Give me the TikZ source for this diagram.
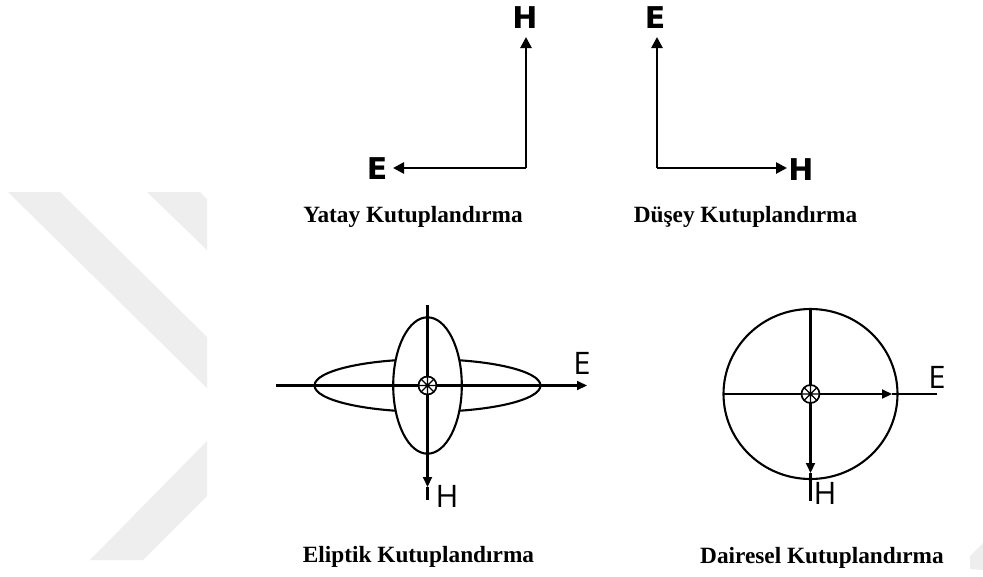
\documentclass[tikz,border=0pt]{standalone}
\usepackage{fontspec}
\setmainfont{Liberation Serif}
\newfontfamily\labsans{DejaVu Sans}
\newfontfamily\thinsans{Open Sans}
\usetikzlibrary{arrows.meta,calc}
\definecolor{wmark}{HTML}{EEEEEE}
\tikzset{
  toparr/.style={line width=2.6pt,-{Triangle[length=11pt,width=11pt]}},
  botline/.style={line width=2.1pt},
  botarr/.style={line width=2.1pt,-{Triangle[length=10pt,width=9pt]}},
  boldlab/.style={inner sep=0pt,font=\labsans\bfseries\fontsize{30}{34}\selectfont},
  thinlab/.style={inner sep=0pt,font=\thinsans\fontsize{31}{35}\selectfont},
  caption/.style={inner sep=0pt,anchor=base,font=\bfseries\fontsize{23.3}{28}\selectfont},
  wm/.style={fill=wmark,draw=none},
  dotcirc/.style={line width=1.7pt,fill=white},
  dotcross/.style={line width=1.2pt}
}
\begin{document}
\begin{tikzpicture}[x=1pt,y=-1pt]
\useasboundingbox[fill=white] (0,0) rectangle (983,576);
% watermark
\fill[wm] (8,192) -- (60,192) -- (207,337) -- (207,388) -- cycle;
\fill[wm] (147,192) -- (200,192) -- (207,199) -- (207,250) -- cycle;
\fill[wm] (207,441) -- (207,496) -- (143,560) -- (90,560) -- cycle;
\fill[wm] (970,556) -- (983,543) -- (983,570) -- (970,569) -- cycle;

% Yatay
\coordinate (y0) at (526,168);
\coordinate (yH) at (526,37);
\coordinate (yE) at (393,168);
\node[boldlab] (yHl) at (525,18) {H};
\node[boldlab] (yEl) at (377,169) {E};
\draw[toparr] (y0) -- (yH);
\draw[toparr] (y0) -- (yE);
\node[caption] (ycap) at (413,222) {Yatay Kutuplandırma};

% Dusey
\coordinate (d0) at (657,168);
\coordinate (dE) at (657,37);
\coordinate (dH) at (787,168);
\node[boldlab] (dEl) at (655,18) {E};
\node[boldlab] (dHl) at (801,170) {H};
\draw[toparr] (d0) -- (dE);
\draw[toparr] (d0) -- (dH);
\node[caption] (dcap) at (745.5,222) {Düşey Kutuplandırma};

% Eliptik
\coordinate (ec) at (427.5,385.5);
\draw[botline] (ec) ellipse [x radius=113pt, y radius=26.3pt];
\draw[botline,fill=white] (ec) ellipse [x radius=34.3pt, y radius=68.2pt];
\coordinate (eL) at (276,385.5);
\coordinate (eR) at (587,385.5);
\coordinate (eT) at (427.5,305);
\coordinate (eHt) at (427.5,487);
\coordinate (eB) at (427.5,500);
\draw[botarr] (eL) -- (eR);
\draw[botarr] (eT) -- (eHt);
\draw[botline] (eHt) -- (eB);
\draw[dotcirc] (ec) circle [radius=9pt];
\draw[dotcross,shift={(ec)}] (-6.4,-6.4) -- (6.4,6.4) (-6.4,6.4) -- (6.4,-6.4) (-9,0) -- (9,0) (0,-9) -- (0,9);
\node[thinlab] (eEl) at (582,363) {E};
\node[thinlab] (eHl) at (447,496) {H};
\node[caption] (ecap) at (418.5,562) {Eliptik Kutuplandırma};

% Dairesel
\coordinate (cc) at (810.5,394);
\draw[botline] (cc) ellipse [x radius=87pt, y radius=85pt];
\coordinate (cL) at (723.5,394);
\coordinate (cEt) at (892,394);
\coordinate (cR) at (937,394);
\coordinate (cT) at (810.5,309);
\coordinate (cHt) at (810.5,473);
\coordinate (cB) at (810.5,501);
\draw[botarr] (cL) -- (cEt);
\draw[botline] (cEt) -- (cR);
\draw[botarr] (cT) -- (cHt);
\draw[botline] (cHt) -- (cB);
\draw[dotcirc] (cc) circle [radius=9pt];
\draw[dotcross,shift={(cc)}] (-6.4,-6.4) -- (6.4,6.4) (-6.4,6.4) -- (6.4,-6.4) (-9,0) -- (9,0) (0,-9) -- (0,9);
\node[thinlab] (cEl) at (937,377) {E};
\node[thinlab] (cHl) at (825,493) {H};
\node[caption] (ccap) at (822,563) {Dairesel Kutuplandırma};
\end{tikzpicture}
\end{document}
